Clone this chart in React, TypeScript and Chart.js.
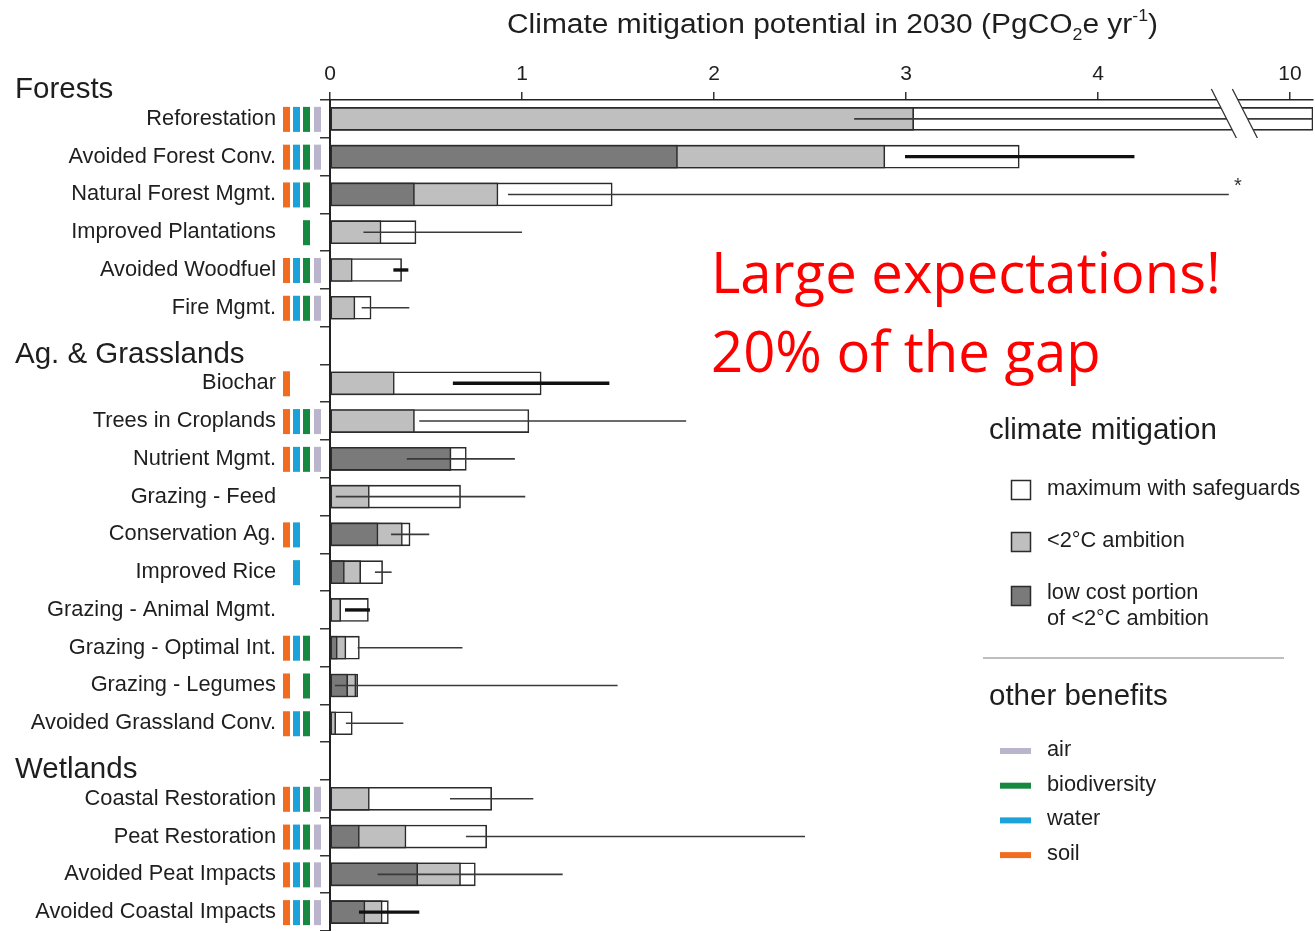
import React, { useEffect, useRef } from 'react';
import { Chart, registerables } from 'chart.js';

Chart.register(...registerables);

// Pathways (blank entries are the group header rows)
const categories = [
  'Reforestation',
  'Avoided Forest Conv.',
  'Natural Forest Mgmt.',
  'Improved Plantations',
  'Avoided Woodfuel',
  'Fire Mgmt.',
  '',
  'Biochar',
  'Trees in Croplands',
  'Nutrient Mgmt.',
  'Grazing - Feed',
  'Conservation Ag.',
  'Improved Rice',
  'Grazing - Animal Mgmt.',
  'Grazing - Optimal Int.',
  'Grazing - Legumes',
  'Avoided Grassland Conv.',
  '',
  'Coastal Restoration',
  'Peat Restoration',
  'Avoided Peat Impacts',
  'Avoided Coastal Impacts',
];

const groupHeaders = ['Forests', 'Ag. & Grasslands', 'Wetlands'];

// PgCO2e per year in 2030
const lowCost = [null, 1.81, 0.44, null, null, null, null, null, null, 0.63, null, 0.25, 0.075, null, 0.038, 0.092, null, null, null, 0.153, 0.457, 0.182];
const below2C = [3.04, 2.89, 0.875, 0.266, 0.116, 0.13, null, 0.335, 0.44, 0.63, 0.205, 0.377, 0.16, 0.056, 0.083, 0.135, 0.03, null, 0.205, 0.396, 0.68, 0.272];
const maxSafeguards = [10.12, 3.59, 1.47, 0.448, 0.373, 0.214, null, 1.1, 1.036, 0.71, 0.68, 0.417, 0.274, 0.2, 0.153, 0.144, 0.116, null, 0.842, 0.816, 0.757, 0.304];
const rangeLow = [2.73, 2.995, 0.927, 0.174, 0.33, 0.165, null, 0.64, 0.465, 0.4, 0.03, 0.318, 0.234, 0.078, 0.144, 0.026, 0.083, null, 0.625, 0.708, 0.248, 0.151];
const rangeHigh = [17.91, 4.19, 6.26, 1.0, 0.408, 0.413, null, 1.455, 1.855, 0.963, 1.017, 0.517, 0.321, 0.208, 0.69, 1.498, 0.382, null, 1.059, 2.474, 1.212, 0.465];

// Other benefits per pathway
const benefits: string[][] = [
  ['soil', 'water', 'biodiversity', 'air'],
  ['soil', 'water', 'biodiversity', 'air'],
  ['soil', 'water', 'biodiversity'],
  ['biodiversity'],
  ['soil', 'water', 'biodiversity', 'air'],
  ['soil', 'water', 'biodiversity', 'air'],
  [],
  ['soil'],
  ['soil', 'water', 'biodiversity', 'air'],
  ['soil', 'water', 'biodiversity', 'air'],
  [],
  ['soil', 'water'],
  ['water'],
  [],
  ['soil', 'water', 'biodiversity'],
  ['soil', 'biodiversity'],
  ['soil', 'water', 'biodiversity'],
  [],
  ['soil', 'water', 'biodiversity', 'air'],
  ['soil', 'water', 'biodiversity', 'air'],
  ['soil', 'water', 'biodiversity', 'air'],
  ['soil', 'water', 'biodiversity', 'air'],
];

const benefitKinds = ['soil', 'water', 'biodiversity', 'air'];
const benefitLegend = ['air', 'biodiversity', 'water', 'soil'];

const xTickValues = [0, 1, 2, 3, 4, 10];

// ---- styling ----
const FONT = '"Liberation Sans", Arial, Helvetica, sans-serif';
const TEXT = '#1e1e1e';
const DARK = '#7a7a7a';
const LIGHT = '#bfbfbf';
const EDGE = '#2b2b2b';
const BENEFIT_COLORS: Record<string, string> = {
  soil: '#f26c1f',
  water: '#1ba3d9',
  biodiversity: '#17883f',
  air: '#bab4cd',
};
const BOLD_RANGES = ['Avoided Forest Conv.', 'Avoided Woodfuel', 'Biochar', 'Grazing - Animal Mgmt.', 'Avoided Coastal Impacts'];

// Broken value axis: 0..4.65 linear, 4.65..9.75 squeezed, then linear again
const BREAK_LO = 4.65;
const BREAK_HI = 9.75;
const BREAK_SPAN = 0.1;
function toAxis(v: number): number {
  if (v <= BREAK_LO) return v;
  if (v < BREAK_HI) return BREAK_LO + ((v - BREAK_LO) * BREAK_SPAN) / (BREAK_HI - BREAK_LO);
  return v - (BREAK_HI - BREAK_LO) + BREAK_SPAN;
}
const axisData = (arr: (number | null)[]) => arr.map((v) => (v == null ? null : toAxis(v)));

const decorations = {
  id: 'decorations',
  afterDatasetsDraw(chart: any) {
    const { ctx, chartArea } = chart;
    const x = chart.scales.x;
    const y = chart.scales.y;
    ctx.save();

    // uncertainty ranges
    categories.forEach((name, i) => {
      const lo = rangeLow[i];
      const hi = rangeHigh[i];
      if (lo == null || hi == null) return;
      const x0 = x.getPixelForValue(toAxis(lo));
      const x1 = Math.min(x.getPixelForValue(toAxis(hi)), chartArea.right);
      const yc = y.getPixelForValue(i);
      const bold = BOLD_RANGES.includes(name);
      ctx.strokeStyle = bold ? '#111' : '#3a3a3a';
      ctx.lineWidth = bold ? 3.4 : 1.6;
      ctx.beginPath();
      ctx.moveTo(x0, yc);
      ctx.lineTo(x1, yc);
      ctx.stroke();
      if (hi > BREAK_LO && hi < BREAK_HI) {
        ctx.fillStyle = '#333';
        ctx.font = `20px ${FONT}`;
        ctx.textAlign = 'center';
        ctx.textBaseline = 'middle';
        ctx.fillText('*', x1 + 9, yc - 8);
      }
    });

    // axis break marks
    const bx = x.getPixelForValue(BREAK_LO + BREAK_SPAN / 2) + 2;
    const t = chartArea.top - 11;
    const b = chartArea.top + 38;
    ctx.fillStyle = '#fff';
    ctx.beginPath();
    ctx.moveTo(bx - 23, t);
    ctx.lineTo(bx - 2, t);
    ctx.lineTo(bx + 23, b);
    ctx.lineTo(bx + 2, b);
    ctx.closePath();
    ctx.fill();
    ctx.strokeStyle = '#333';
    ctx.lineWidth = 1.3;
    ctx.beginPath();
    ctx.moveTo(bx - 23, t);
    ctx.lineTo(bx + 2, b);
    ctx.moveTo(bx - 2, t);
    ctx.lineTo(bx + 23, b);
    ctx.stroke();
    ctx.restore();
  },
  afterDraw(chart: any) {
    const { ctx } = chart;
    const y = chart.scales.y;
    ctx.save();

    const row = y.getPixelForValue(1) - y.getPixelForValue(0);

    // benefit indicators beside the labels
    const slotX = [283, 293, 303, 314];
    categories.forEach((_, i) => {
      const yc = y.getPixelForValue(i);
      benefits[i].forEach((kind) => {
        const s = benefitKinds.indexOf(kind);
        ctx.fillStyle = BENEFIT_COLORS[kind];
        ctx.fillRect(slotX[s], yc - 12, 7, 25);
      });
    });

    // group headers
    const headerRows = [-1];
    categories.forEach((c, i) => {
      if (c === '') headerRows.push(i);
    });
    ctx.fillStyle = TEXT;
    ctx.font = `29.5px ${FONT}`;
    ctx.textAlign = 'left';
    ctx.textBaseline = 'middle';
    groupHeaders.forEach((h, k) => {
      const r = headerRows[k];
      const yc = r < 0 ? y.getPixelForValue(0) - row : y.getPixelForValue(r);
      ctx.fillText(h, 15, yc + 9);
    });

    // axis title with sub/superscripts
    const parts = [
      { t: 'Climate mitigation potential in 2030 (PgCO', k: 0 },
      { t: '2', k: 1 },
      { t: 'e yr', k: 0 },
      { t: '-1', k: 2 },
      { t: ')', k: 0 },
    ];
    const mainFont = `27px ${FONT}`;
    const smallFont = `16px ${FONT}`;
    let total = 0;
    parts.forEach((p) => {
      ctx.font = p.k ? smallFont : mainFont;
      total += ctx.measureText(p.t).width;
    });
    ctx.save();
    ctx.translate(507, 33);
    ctx.scale(651 / total, 1);
    ctx.textBaseline = 'alphabetic';
    ctx.fillStyle = TEXT;
    let cx = 0;
    parts.forEach((p) => {
      ctx.font = p.k ? smallFont : mainFont;
      const dy = p.k === 1 ? 7 : p.k === 2 ? -12 : 0;
      ctx.fillText(p.t, cx, dy);
      cx += ctx.measureText(p.t).width;
    });
    ctx.restore();

    // legend: climate mitigation
    ctx.fillStyle = TEXT;
    ctx.textAlign = 'left';
    ctx.textBaseline = 'middle';
    ctx.font = `29.5px ${FONT}`;
    ctx.fillText('climate mitigation', 989, 431);
    const swatches = [
      { c: '#ffffff', y: 490, lines: ['maximum with safeguards'] },
      { c: LIGHT, y: 542, lines: ['<2°C ambition'] },
      { c: DARK, y: 596, lines: ['low cost portion', 'of <2°C ambition'] },
    ];
    ctx.font = `21.8px ${FONT}`;
    swatches.forEach((s) => {
      ctx.fillStyle = s.c;
      ctx.fillRect(1011.5, s.y - 9.5, 19, 19);
      ctx.strokeStyle = EDGE;
      ctx.lineWidth = 1.5;
      ctx.strokeRect(1011.5, s.y - 9.5, 19, 19);
      ctx.fillStyle = TEXT;
      s.lines.forEach((ln, j) => ctx.fillText(ln, 1047, s.y - (s.lines.length > 1 ? 3 : 1) + j * 26));
    });

    ctx.strokeStyle = '#a8a8a8';
    ctx.lineWidth = 1.5;
    ctx.beginPath();
    ctx.moveTo(983, 658);
    ctx.lineTo(1284, 658);
    ctx.stroke();

    // legend: other benefits
    ctx.font = `29.5px ${FONT}`;
    ctx.fillStyle = TEXT;
    ctx.fillText('other benefits', 989, 697);
    ctx.font = `21.8px ${FONT}`;
    benefitLegend.forEach((kind, j) => {
      const yy = 751 + j * 34.7;
      ctx.fillStyle = BENEFIT_COLORS[kind];
      ctx.fillRect(1000, yy - 3, 31, 6);
      ctx.fillStyle = TEXT;
      ctx.fillText(kind, 1047, yy - 1);
    });

    // annotation
    const l1 = 'Large expectations!';
    const l2 = '20% of the gap';
    ctx.font = `100px "Open Sans", "Noto Sans", sans-serif`;
    const w1 = ctx.measureText(l1).width;
    const size = (100 * 510) / w1;
    ctx.font = `${size}px "Open Sans", "Noto Sans", sans-serif`;
    ctx.fillStyle = '#ff0000';
    ctx.textBaseline = 'alphabetic';
    ctx.fillText(l1, 711, 293);
    ctx.fillText(l2, 711, 372);

    ctx.restore();
  },
};

export default function App() {
  const ref = useRef<HTMLCanvasElement>(null);

  useEffect(() => {
    const barCommon = {
      grouped: false,
      borderColor: EDGE,
      borderWidth: 1.6,
      borderSkipped: false as const,
      barThickness: 23,
    };
    const chart = new Chart(ref.current as HTMLCanvasElement, {
      type: 'bar',
      data: {
        labels: categories,
        datasets: [
          { ...barCommon, label: 'low cost portion of <2°C ambition', data: axisData(lowCost), backgroundColor: DARK, order: 1 },
          { ...barCommon, label: '<2°C ambition', data: axisData(below2C), backgroundColor: LIGHT, order: 2 },
          { ...barCommon, label: 'maximum with safeguards', data: axisData(maxSafeguards), backgroundColor: '#ffffff', order: 3 },
        ],
      },
      options: {
        indexAxis: 'y',
        responsive: false,
        devicePixelRatio: 1,
        animation: false,
        layout: { padding: { left: 0, right: 2, top: 0, bottom: -2 } },
        plugins: {
          legend: { display: false },
          tooltip: { enabled: false },
        },
        scales: {
          x: {
            type: 'linear',
            position: 'top',
            min: 0,
            max: 5.12,
            afterBuildTicks: (scale: any) => {
              scale.ticks = xTickValues.map((v) => ({ value: toAxis(v) }));
            },
            afterFit: (scale: any) => {
              scale.height = 100;
              scale.paddingRight = 0;
            },
            ticks: {
              callback: (_v: any, idx: number) => String(xTickValues[idx]),
              font: { family: FONT, size: 21 },
              color: TEXT,
              padding: 5,
              maxRotation: 0,
              autoSkip: false,
            },
            grid: { drawOnChartArea: false, tickLength: 8, color: '#333', lineWidth: 1.5 },
            border: { display: true, color: '#222', width: 1.6 },
          },
          y: {
            type: 'category',
            afterFit: (scale: any) => {
              scale.width = 330;
              scale.paddingTop = 0;
              scale.paddingBottom = 0;
            },
            ticks: {
              font: { family: FONT, size: 21.8 },
              color: TEXT,
              padding: 44,
              autoSkip: false,
            },
            grid: { offset: true, drawOnChartArea: false, tickLength: 10, color: '#333', lineWidth: 1.5 },
            border: { display: true, color: '#222', width: 2 },
          },
        },
      },
      plugins: [decorations],
    } as any);
    return () => chart.destroy();
  }, []);

  return (
    <div style={{ position: 'fixed', left: 0, top: 0, width: 1315, height: 931, background: '#fff' }}>
      <canvas ref={ref} width={1315} height={931} style={{ display: 'block' }} />
    </div>
  );
}
